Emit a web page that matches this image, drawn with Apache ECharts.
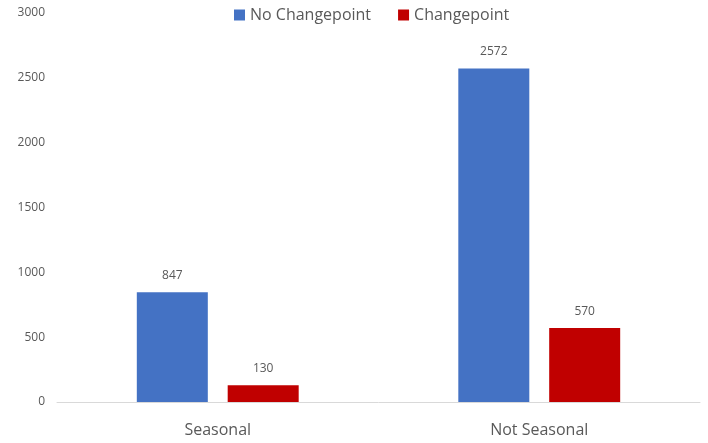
<!DOCTYPE html>
<html>
<head>
<meta charset="utf-8">
<script src="https://cdn.jsdelivr.net/npm/echarts@6/dist/echarts.min.js"></script>
<style>
  html, body { margin: 0; padding: 0; background: #fff; }
  #chart { width: 708px; height: 443px; }
</style>
</head>
<body>
<div id="chart"></div>
<script>
// Counts of series by seasonality, split by whether a changepoint was detected
const categories = ['Seasonal', 'Not Seasonal'];
const noChangepoint = [847, 2572];
const changepoint = [130, 570];
const yTicks = [0, 500, 1000, 1500, 2000, 2500, 3000];

const FONT = '"Open Sans", "Noto Sans", sans-serif';
const TEXT = '#595959';

const chart = echarts.init(document.getElementById('chart'));
chart.setOption({
  animation: false,
  textStyle: { fontFamily: FONT },
  legend: {
    top: 2,
    left: 229,
    itemWidth: 11,
    itemHeight: 11,
    itemGap: 27,
    icon: 'rect',
    textStyle: { fontSize: 16, color: TEXT, fontFamily: FONT },
    data: ['No Changepoint', 'Changepoint']
  },
  grid: { left: 57, right: 8, top: 13, bottom: 41, containLabel: false },
  xAxis: {
    type: 'category',
    data: categories,
    axisLine: { lineStyle: { color: '#d9d9d9', width: 1 } },
    axisTick: { show: false },
    axisLabel: { fontSize: 16, color: TEXT, margin: 20, fontFamily: FONT }
  },
  yAxis: {
    type: 'value',
    min: yTicks[0],
    max: yTicks[yTicks.length - 1],
    interval: yTicks[1] - yTicks[0],
    splitLine: { show: false },
    axisLine: { show: false },
    axisTick: { show: false },
    axisLabel: {
      fontSize: 12, color: TEXT, margin: 12, fontFamily: FONT,
      formatter: (v) => String(v)
    }
  },
  series: [
    {
      name: 'No Changepoint',
      type: 'bar',
      data: noChangepoint,
      barWidth: 71,
      barGap: '28%',
      itemStyle: { color: '#4472c4' },
      label: { show: true, position: 'top', distance: 11, fontSize: 12, color: TEXT, fontFamily: FONT }
    },
    {
      name: 'Changepoint',
      type: 'bar',
      data: changepoint,
      barWidth: 71,
      barGap: '28%',
      itemStyle: { color: '#c00000' },
      label: { show: true, position: 'top', distance: 11, fontSize: 12, color: TEXT, fontFamily: FONT }
    }
  ]
});
</script>
</body>
</html>
